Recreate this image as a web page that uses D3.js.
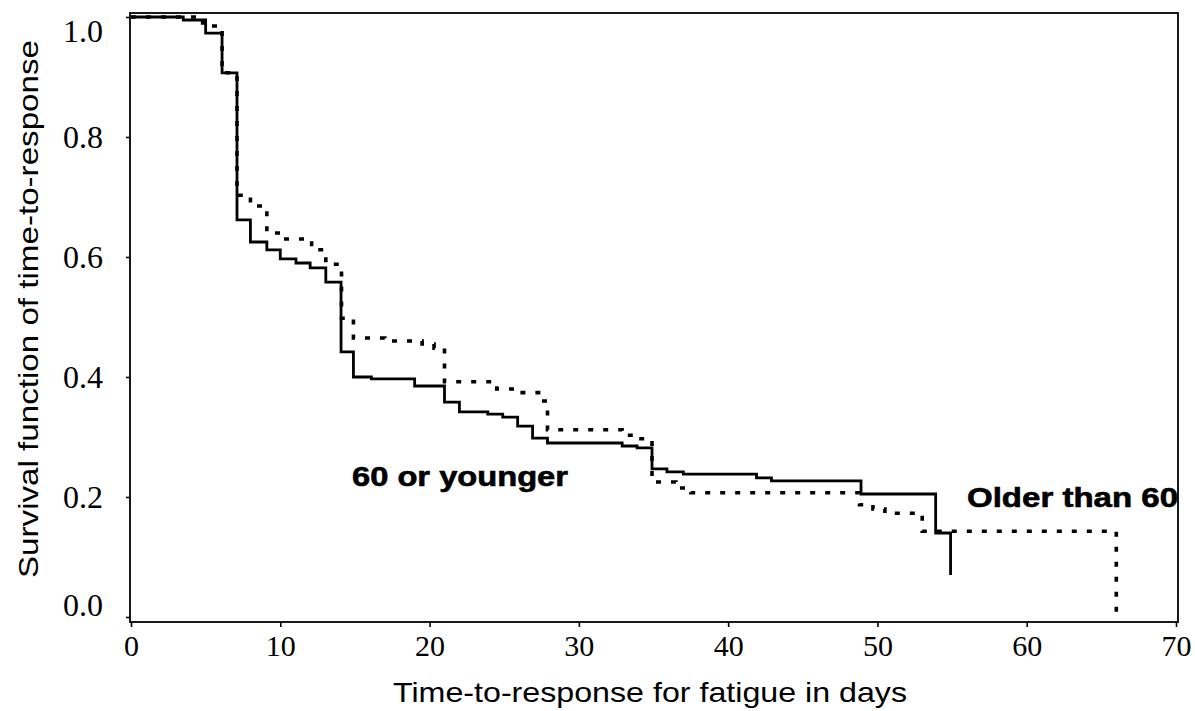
<!DOCTYPE html>
<html>
<head>
<meta charset="utf-8">
<script src="https://cdn.jsdelivr.net/npm/d3@7"></script>
<style>
  html, body { margin: 0; padding: 0; background: #fff; }
  svg { display: block; }
</style>
</head>
<body>
<svg id="chart" width="1195" height="711"></svg>
<script>
// ---- Data ----
const youngTimes = [0, 3.5, 5.0, 6.1, 7.1, 8.0, 9.1, 10.0, 11.05, 12.0, 13.05, 14.07, 14.9, 16.1, 19.0, 21.0, 22.0, 23.9, 24.9, 25.9, 26.9, 27.9, 32.9, 33.9, 34.9, 35.9, 37.0, 41.9, 42.9, 48.9, 53.9, 54.9];
const youngSurv  = [1.0, 0.995, 0.973, 0.907, 0.662, 0.625, 0.612, 0.597, 0.59, 0.582, 0.558, 0.442, 0.40, 0.397, 0.385, 0.358, 0.342, 0.338, 0.333, 0.318, 0.298, 0.29, 0.285, 0.282, 0.247, 0.242, 0.238, 0.232, 0.227, 0.205, 0.14, 0.07];

const oldTimes = [0, 4.8, 5.2, 6.1, 7.1, 8.0, 9.1, 10.2, 12.1, 13.05, 14.1, 14.9, 17.0, 19.5, 20.3, 21.0, 24.5, 26.0, 27.3, 27.9, 32.9, 33.9, 34.9, 36.5, 37.5, 48.8, 49.7, 50.5, 53.0, 66.0];
const oldSurv  = [1.0, 0.99, 0.985, 0.907, 0.703, 0.685, 0.64, 0.63, 0.612, 0.588, 0.498, 0.465, 0.46, 0.455, 0.448, 0.392, 0.38, 0.374, 0.36, 0.312, 0.303, 0.297, 0.225, 0.215, 0.207, 0.187, 0.18, 0.173, 0.143, 0.0];

const xTicks = [0, 10, 20, 30, 40, 50, 60, 70];
const yTicks = [0.0, 0.2, 0.4, 0.6, 0.8, 1.0];

const xTitle = "Time-to-response for fatigue in days";
const yTitle = "Survival function of time-to-response";
const labelYoung = "60 or younger";
const labelOld = "Older than 60";

// ---- Layout ----
const svg = d3.select("#chart");
const x = d3.scaleLinear().domain([0, 70]).range([131, 1176]);
const y = d3.scaleLinear().domain([0, 1]).range([617, 17]);

const frame = { left: 130, top: 13, right: 1178, bottom: 622 };

// Frame
svg.append("rect")
  .attr("x", frame.left).attr("y", frame.top)
  .attr("width", frame.right - frame.left)
  .attr("height", frame.bottom - frame.top)
  .attr("fill", "none").attr("stroke", "#000").attr("stroke-width", 1.8);

// X axis
const xAxis = svg.append("g")
  .attr("transform", `translate(0,${frame.bottom})`)
  .call(d3.axisBottom(x).tickValues(xTicks).tickFormat(d3.format("d")).tickSize(5).tickPadding(8));
xAxis.select(".domain").remove();
xAxis.selectAll("line").attr("stroke", "#000").attr("stroke-width", 1.6);
xAxis.selectAll("text")
  .attr("font-family", "'Liberation Serif', 'Times New Roman', serif")
  .attr("font-size", 30).attr("fill", "#000");

// Y axis
const yAxis = svg.append("g")
  .attr("transform", `translate(${frame.left},0)`)
  .call(d3.axisLeft(y).tickValues(yTicks).tickFormat(d3.format(".1f")).tickSize(4).tickPadding(23));
yAxis.select(".domain").remove();
yAxis.selectAll("line").attr("stroke", "#000").attr("stroke-width", 1.6);
yAxis.selectAll("text")
  .attr("font-family", "'Liberation Serif', 'Times New Roman', serif")
  .attr("font-size", 32).attr("fill", "#000")
  .attr("dy", d => d === 1 ? "0.78em" : (d === 0 ? "-0.05em" : "0.34em"));

// Axis titles
svg.append("text")
  .attr("x", 650).attr("y", 702)
  .attr("text-anchor", "middle")
  .attr("font-family", "'Liberation Sans', Arial, sans-serif")
  .attr("font-size", 28)
  .attr("textLength", 514).attr("lengthAdjust", "spacingAndGlyphs")
  .text(xTitle);

svg.append("text")
  .attr("transform", "translate(38,309) rotate(-90)")
  .attr("text-anchor", "middle")
  .attr("font-family", "'Liberation Sans', Arial, sans-serif")
  .attr("font-size", 28)
  .attr("textLength", 538).attr("lengthAdjust", "spacingAndGlyphs")
  .text(yTitle);

// Curves
const line = d3.line()
  .x(d => x(d[0])).y(d => y(d[1]))
  .curve(d3.curveStepAfter);

const youngData = youngTimes.map((t, i) => [t, youngSurv[i]]);
const oldData = oldTimes.map((t, i) => [t, oldSurv[i]]);

svg.append("path")
  .datum(oldData)
  .attr("d", line)
  .attr("fill", "none").attr("stroke", "#000")
  .attr("stroke-width", 3.6)
  .attr("stroke-dasharray", "5,10");

svg.append("path")
  .datum(youngData)
  .attr("d", line)
  .attr("fill", "none").attr("stroke", "#000")
  .attr("stroke-width", 2.8);

// Annotations
svg.append("text")
  .attr("x", 352).attr("y", 486)
  .attr("font-family", "'Liberation Sans', Arial, sans-serif")
  .attr("font-weight", "bold").attr("font-size", 27)
  .attr("textLength", 216).attr("lengthAdjust", "spacingAndGlyphs")
  .attr("stroke", "#000").attr("stroke-width", 0.6)
  .text(labelYoung);

svg.append("text")
  .attr("x", 967).attr("y", 507)
  .attr("font-family", "'Liberation Sans', Arial, sans-serif")
  .attr("font-weight", "bold").attr("font-size", 27)
  .attr("textLength", 211).attr("lengthAdjust", "spacingAndGlyphs")
  .attr("stroke", "#000").attr("stroke-width", 0.6)
  .text(labelOld);
</script>
</body>
</html>
